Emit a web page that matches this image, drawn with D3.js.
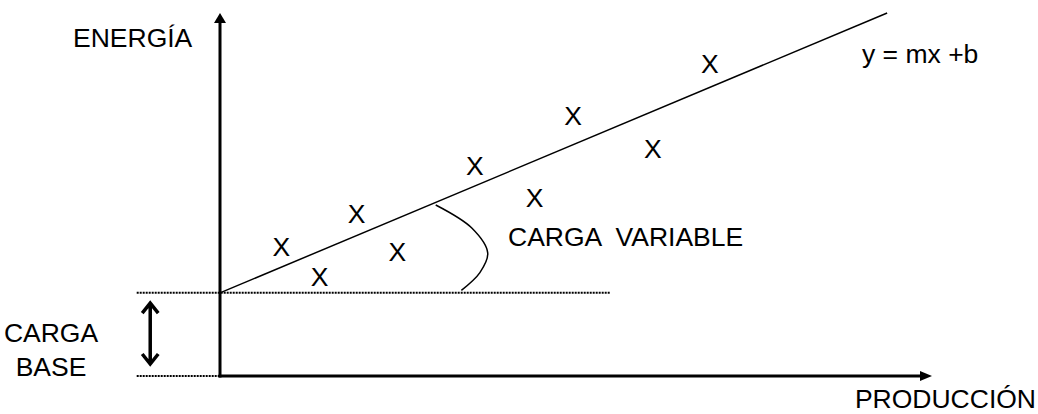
<!DOCTYPE html>
<html>
<head>
<meta charset="utf-8">
<script src="https://cdn.jsdelivr.net/npm/d3@7"></script>
<style>
  body { margin: 0; background: #fff; }
  svg text { font-family: Arial, "Liberation Sans", sans-serif; font-size: 26.5px; fill: #000; }
</style>
</head>
<body>
<div id="chart"></div>
<script>
// Observed points (producción, energía) in arbitrary units 0..100
const prodValues = [8.6, 14.0, 19.2, 24.9, 35.8, 44.2, 49.6, 60.8, 68.8];
const energyValues = [35.8, 27.3, 44.9, 34.4, 58.1, 49.3, 71.9, 62.8, 86.0];

// Fit line y = m x + b
const baseLoad = 22.9;     // b, carga base
const slope = 0.823;       // m
const lineEndX = 93.7;

// Extent of the dotted base line and the "carga variable" brace
const baseLineFrom = -11.7;
const baseLineTo = 54.8;
const braceX = [30.3, 35.4, 37.6, 36.5, 33.9];
const braceY = [47.1, 40.7, 33.9, 28.5, 23.6];
const arrowX = -9.8;
const arrowRange = [3.3, 20.1];

const labels = {
  yAxis: "ENERGÍA",
  xAxis: "PRODUCCIÓN",
  formula: "y = mx +b",
  variable: "CARGA  VARIABLE",
  base: ["CARGA", "BASE"],
  point: "X"
};

const W = 1038, H = 414;

const svg = d3.select("#chart")
  .append("svg")
  .attr("width", W)
  .attr("height", H);

// Scales
const x = d3.scaleLinear().domain([0, 100]).range([220, 932]);
const y = d3.scaleLinear().domain([0, 100]).range([376, 13]);

// Axes (no ticks, just the arrow lines)
svg.append("line")
  .attr("x1", x(0)).attr("x2", x(0))
  .attr("y1", y(0) + 1.5).attr("y2", y(100) + 6)
  .attr("stroke", "#000").attr("stroke-width", 3);
svg.append("path")
  .attr("d", `M${x(0)},${y(100)} l-6,10 l12,0 z`)
  .attr("fill", "#000");

svg.append("line")
  .attr("x1", x(0) - 1.5).attr("x2", x(100) - 6)
  .attr("y1", y(0)).attr("y2", y(0))
  .attr("stroke", "#000").attr("stroke-width", 3);
svg.append("path")
  .attr("d", `M${x(100)},${y(0)} l-12,-5 l0,10 z`)
  .attr("fill", "#000");

// Dotted reference lines
svg.append("line")
  .attr("x1", x(baseLineFrom)).attr("x2", x(baseLineTo))
  .attr("y1", y(baseLoad)).attr("y2", y(baseLoad))
  .attr("stroke", "#000").attr("stroke-width", 2)
  .attr("stroke-dasharray", "2,1");
svg.append("line")
  .attr("x1", x(baseLineFrom)).attr("x2", x(0))
  .attr("y1", y(0)).attr("y2", y(0))
  .attr("stroke", "#000").attr("stroke-width", 2)
  .attr("stroke-dasharray", "2,1");

// Double arrow for carga base
const ax = x(arrowX), ay1 = y(arrowRange[1]), ay2 = y(arrowRange[0]);
svg.append("path")
  .attr("d", `M${ax},${ay1} L${ax},${ay2} M${ax - 8},${ay1 + 10} L${ax},${ay1} L${ax + 8},${ay1 + 10} M${ax - 8},${ay2 - 10} L${ax},${ay2} L${ax + 8},${ay2 - 10}`)
  .attr("fill", "none").attr("stroke", "#000")
  .attr("stroke-width", 3.5).attr("stroke-linejoin", "miter");

// Fitted line
svg.append("line")
  .attr("x1", x(0)).attr("y1", y(baseLoad))
  .attr("x2", x(lineEndX)).attr("y2", y(baseLoad + slope * lineEndX))
  .attr("stroke", "#000").attr("stroke-width", 1.5);

// Brace for carga variable
svg.append("path")
  .datum(d3.zip(braceX, braceY))
  .attr("d", d3.line().x(d => x(d[0])).y(d => y(d[1])).curve(d3.curveCatmullRom))
  .attr("fill", "none").attr("stroke", "#000").attr("stroke-width", 1.5);

// Data points drawn as X
svg.selectAll("text.pt")
  .data(d3.zip(prodValues, energyValues))
  .enter()
  .append("text")
  .attr("class", "pt")
  .attr("x", d => x(d[0]))
  .attr("y", d => y(d[1]))
  .attr("dy", "0.36em")
  .attr("text-anchor", "middle")
  .text(labels.point);

// Labels
svg.append("text").attr("x", 73).attr("y", 47).text(labels.yAxis);
svg.append("text").attr("x", 1036).attr("y", 408).attr("text-anchor", "end").text(labels.xAxis);
svg.append("text").attr("x", 862).attr("y", 63).style("white-space", "pre").text(labels.formula);
svg.append("text").attr("x", 508).attr("y", 246).style("white-space", "pre").text(labels.variable);
svg.selectAll("text.base")
  .data(labels.base)
  .enter()
  .append("text")
  .attr("class", "base")
  .attr("x", 51)
  .attr("y", (d, i) => 342 + i * 34)
  .attr("text-anchor", "middle")
  .text(d => d);
</script>
</body>
</html>
